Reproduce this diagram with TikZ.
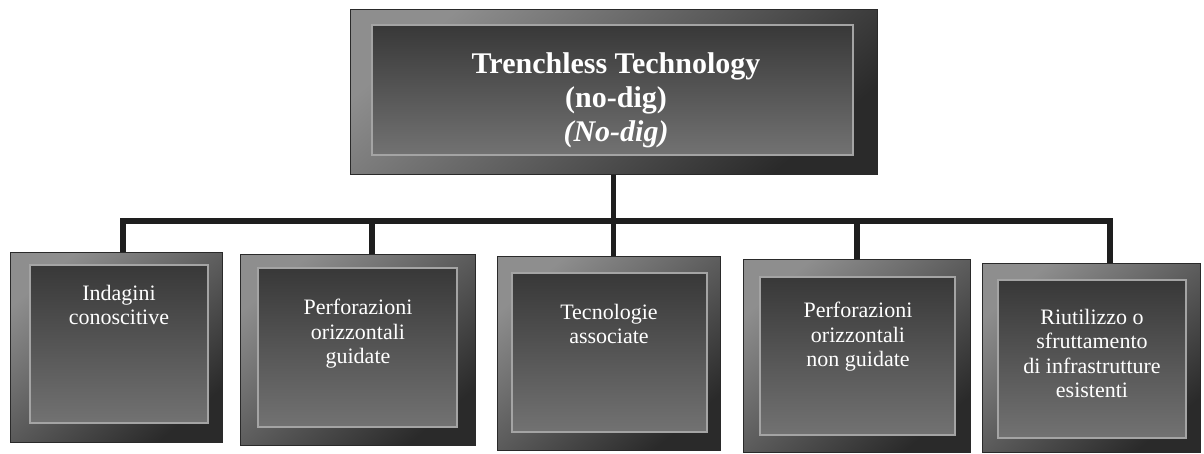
\documentclass[tikz,border=0pt]{standalone}
\usepackage{fontspec}
\setmainfont{Liberation Serif}
\definecolor{frameL}{HTML}{8E8E8E}
\definecolor{frameD}{HTML}{2A2A2A}
\definecolor{panelT}{HTML}{383838}
\definecolor{panelB}{HTML}{727272}
\definecolor{panelEdge}{HTML}{A4A4A4}
\definecolor{lineC}{HTML}{1E1E1E}
\begin{document}
\begin{tikzpicture}[x=1pt,y=-1pt,
  outerbox/.style={shade, shading=axis, top color=frameL, bottom color=frameD, shading angle=40, inner sep=0pt, draw=frameD, line width=1pt},
  innerbox/.style={shade, top color=panelT, bottom color=panelB, draw=panelEdge, line width=1.2pt, inner sep=0pt},
  toplbl/.style={text=white, font=\fontsize{30}{34}\selectfont\bfseries, align=center, inner sep=0pt},
  lbl/.style={text=white, font=\fontsize{22}{24.5}\selectfont, align=center, inner sep=0pt},
  conn/.style={draw=lineC, line width=5.5pt, line join=miter}
]
\useasboundingbox (0,0) rectangle (1204,454);
\fill[white] (0,0) rectangle (1204,454);

% top box
\node[outerbox, minimum width=527, minimum height=165] (top) at (613.5,92.5) {};
\node[innerbox, minimum width=481, minimum height=130] (topin) at (612.5,90) {};
\node[toplbl, anchor=north] (toptxt) at (616,52) {Trenchless Technology\\(no-dig)\\\textit{(No-dig)}};

% bottom boxes
\node[outerbox, minimum width=212, minimum height=189] (b1) at (116,347.5) {};
\node[innerbox, minimum width=178, minimum height=158] (i1) at (119,344) {};
\node[lbl, anchor=north] (t1) at (119,285) {Indagini\\conoscitive};

\node[outerbox, minimum width=235, minimum height=190] (b2) at (357.5,350) {};
\node[innerbox, minimum width=199, minimum height=159] (i2) at (357.5,347.5) {};
\node[lbl, anchor=north] (t2) at (358,299) {Perforazioni\\orizzontali\\guidate};

\node[outerbox, minimum width=223, minimum height=193] (b3) at (608.5,353.5) {};
\node[innerbox, minimum width=195, minimum height=159] (i3) at (609.5,352.5) {};
\node[lbl, anchor=north] (t3) at (609,304) {Tecnologie\\associate};

\node[outerbox, minimum width=227, minimum height=192] (b4) at (856.5,356) {};
\node[innerbox, minimum width=195, minimum height=158] (i4) at (857.5,356) {};
\node[lbl, anchor=north] (t4) at (858,302) {Perforazioni\\orizzontali\\non guidate};

\node[outerbox, minimum width=218, minimum height=188] (b5) at (1091,358) {};
\node[innerbox, minimum width=188, minimum height=158] (i5) at (1092,359) {};
\node[lbl, anchor=north] (t5) at (1092,309) {Riutilizzo o\\sfruttamento\\di infrastrutture\\esistenti};

% connectors
\coordinate (j1) at (123,221);
\coordinate (j2) at (372,221);
\coordinate (j4) at (857,221);
\coordinate (j5) at (1110,221);
\draw[conn] (top.south) -- (top.south |- j1);
\draw[conn] (j1 |- b1.north) -- (j1) -- (j5) -- (j5 |- b5.north);
\draw[conn] (j2) -- (j2 |- b2.north);
\draw[conn] (top.south |- j1) -- (top.south |- b3.north);
\draw[conn] (j4) -- (j4 |- b4.north);
\end{tikzpicture}
\end{document}
